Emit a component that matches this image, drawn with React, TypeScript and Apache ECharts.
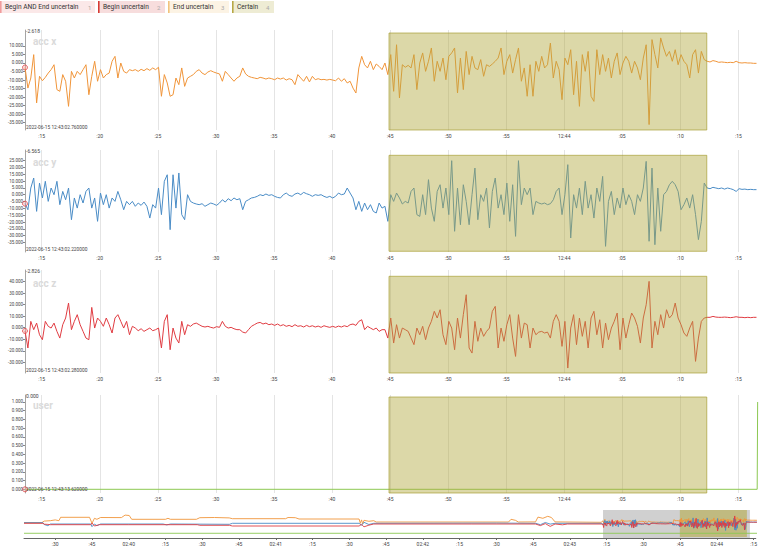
import React, { useEffect, useRef } from "react";
import * as echarts from "echarts";

// Time is expressed in seconds after 12:43:00.
const T0 = 13.56; // first sample
const DT = 0.25; // sample interval
const VIEW_MIN = 13.56;
const VIEW_MAX = 76.69;
const CERTAIN_START = 44.91;
const CERTAIN_END = 72.28;

const accX = [
  -2.618, -14.7, -8.8, 4.9, -23.4, -7.8, -10.4, -8.4, -5.9, -3.9,
  -1, -15.6, -16.6, -6.8, -10.7, -25.4, -4.9, -8.8, -4.9, -6.8,
  -3.9, -1, -18.6, -7.8, 1, -10.7, -3.9, -8.8, -6.8, -5.9,
  1, 3.9, -8.8, 0, -4.9, -5.9, -3.9, -4.5, -3.9, -4.9,
  -3.7, -4.5, -3.3, -4.3, -2.9, -3.9, -2.5, -19.5, -6.8, -11.7,
  -19.5, -18.6, -8.8, -12.7, -2.9, -13.7, -8.8, -7.8, -6.8, -4.9,
  -3.9, -5.9, -6.8, -5.3, -4.5, -5.3, -5.9, -6.4, -10.7, -4.9,
  -6.8, -8.8, -10.7, -8.8, -7.8, -2.9, -6.4, -7.8, -8.4, -8.8,
  -9.2, -8.4, -8.8, -9.4, -8.8, -9.2, -9.8, -8.8, -9.4, -8.8,
  -10, -9.2, -9.8, -12.7, -6.8, -8.8, -10.7, -7.8, -11.1, -7.8,
  -9.8, -9.2, -9.8, -9.6, -10, -9.6, -10, -10.4, -8.8, -10.7,
  -9.2, -11.7, -10.7, -14.7, -17.6, -2.9, 3.9, -1, -2.9, 1,
  -3.9, -0.6, -2, -3.9,
  0, -6.8, 4.9, -16.6, 10.7, -20.5,
  -1, -2.5, -1.4, -2.9, 4.9, -15.6, 0, 5.9, -4.9, 1,
  8.8, -10.7, 1, -4.9, 2.9, -9.8, 3.9, 5.9, 8.8, -17.6,
  2.9, -15.6, 6.8, -6.8, 3.9, -2.9, -3.9, 2, -7.8, -1,
  -2, -0.6, 1, 2.9, 8.8, -6.8, 1, 4.9, -5.9, 2,
  8.8, -10.7, -2.9, -19.5, -1, -19.5, 1, -4.9, 3.9, -2.9,
  -1, 11.7, -8.8, 1, -3.9, -21.5, 2.9, -1, 7.8, -18.6,
  1, -25.4, 4.9, -4.9, 6.8, -19.5, -22.5, 7.8, -6.8, 4.9,
  -4.9, 2.9, -8.8, 1, 5.9, -6.8, 0, 3.9, 1, -5.9,
  1, -2.9, -9.8, 2.9, 10.7, -36.1, 13.7, 4.9, -2.9, 14.7,
  8.8, 3.9, 6.8, 1, 7.8, -1, 4.9, 1, -1, -8.8,
  4.9, 7.8, -5.9, 6.8, 2, 1, 0.6, 1.4, 1, 0.4,
  0.6, 0.4, 0.2, 0.4, 0.2, 1, 0.2, 0, 0.2, 0,
  0, -0.2, -0.2,
];

const accY = [
  -6.565, -11, 4.9, 12.2, -12.2, 8.5, -2.4, 9.8, -4.9, 4.9,
  0, 9.8, -7.3, 2.4, -3.7, 4.9, -18.3, -2.4, -9.8, 0,
  -6.1, 2.4, 4.9, -9.8, -2.4, -19.5, 1.2, -7.3, 0, -9.8,
  -2.4, -4.9, 2.4, -3.7, -11, -4.9, -7.3, -4.9, -8.5, -6.1,
  -7.8, -5.4, -8.5, -17.1, -7.3, -9.8, 4.9, -14.6, 9.8, 14.6,
  -25.6, 14.6, -9.8, 15.9, -14.6, -18.3, 0, -4.9, -6.1, -6.8,
  -7.3, -6.6, -8.5, -7.3, -6.1, -6.8, -7.8, -6.1, -3.7, -5.4,
  -2.9, -4.4, -2.4, -3.7, -2.9, -11, -4.9, -3.7, -2.4, -2,
  -1.2, 0, -0.7, 0.5, -0.5, 0, -1.2, -2, -2.4, 0,
  1.2, -0.5, -1.2, 0.5, 1.2, 0, 1.7, 0.7, 0, -1.2,
  0, -0.5, 0, -1.2, -2, -1.2, -2.4, -1.2, 1.2, 0,
  0.5, 4.9, 1.2, -2.4, -11, -4.9, -12.2, -6.1, -11, -7.3,
  -12.2, -13.4, -6.1, -9.8,
  -8.5, -19.5, 0, -4.9, 1.2, -2.4,
  -6.8, -4.9, -6.1, 2.4, 4.9, -14.6, -15.9, 0, -14.6, 11,
  -9.8, -19.5, 2.4, 7.3, -9.8, 4.9, -14.6, 24.9, -26.8, 4.9,
  -22, 7.3, -4.9, -22, 0, 19.5, -18.3, 0, -4.9, 4.9,
  -24.4, 2.4, 12.2, -9.8, 0, -14.6, 8.5, -19.5, 7.3, -30.5,
  24.9, -7.3, 4.9, 0, 4.9, -14.6, -4.9, -6.1, -6.8, -6.1,
  -7.3, -6.6, -3.7, 2.4, 4.9, -14.6, 0, 22, -31.7, 0,
  -9.8, 4.9, -14.6, 9.8, -9.8, 0, -17.1, 4.9, -4.9, 13.4,
  -37.8, -4.9, 2.4, -14.6, -2.4, -9.8, 4.9, -7.3, 0, -4.9,
  -14.6, 0, -4.9, 4.9, 24.4, -34.1, 19.5, -36.6, 4.9, -26.8,
  0, 2.4, 7.3, 9.8, 7.3, 2.4, -11, -7.3, -2.4, -9.8,
  0, -14.6, -32.9, -19.5, 8.5, 4.9, 4.4, 5.4, 4.9, 4.4,
  4.9, 4.1, 4.9, 4.4, 3.7, 2.4, 4.4, 3.9, 4.1, 3.7,
  3.9, 3.7, 3.7,
];

const accZ = [
  -2.826, -17.6, 5.5, -1.7, 4, -6.1, -10.4, 5.5, 1.2, -0.3,
  4, -3.2, -9, 2.6, 8.4, 21.4, -1.7, 5.5, 11.3, 2.6,
  -3.2, -9, -10.4, 17.6, -0.3, 8.4, 5.5, 1.2, 8.4, 2.6,
  -4.6, 8.4, 11.3, 5.5, -0.3, 5.5, -6.1, 1.2, -0.3, -2.6,
  -0.9, -3.2, -1.7, -0.3, -2.6, -1.7, -0.3, -17.6, 5.5, 11.3,
  -19.1, -0.3, -9, -13.3, 5.5, -6.1, 2.6, 1.2, 3.2, 4,
  2.6, 1.2, 0.6, 1.2, 0.3, -0.3, 0.9, 0.3, 5.5, 1.2,
  -0.3, 0.3, -0.9, -1.7, -1.7, -3.8, -4.6, -1.7, 1.2, 2.6,
  4, 4.6, 3.2, 4, 2.6, 3.2, 2, 3.2, 1.7, 2.6,
  1.2, 2, 0.9, 2.6, 1.2, 1.7, 0.6, 2, 0.9, 1.7,
  0.6, 1.4, 0.3, 1.7, 0.9, 0.3, 1.2, 0.3, 1.4, 0.6,
  1.7, 0.9, 2.6, 3.2, 2, 5.5, 6.9, -1.7, 1.2, -0.3,
  -1.7, -0.3, -3.2, -1.7,
  -1.7, -9, 8.4, -13.3, 2.6, -9,
  -0.3, -1.7, -3.2, -9, -14.7, -0.3, -6.1, 1.2, -10.4, -0.3,
  5.5, 14.2, 8.4, 15.6, -6.1, -14.7, 5.5, -0.3, -19.1, 8.4,
  -9, 11.3, 28.6, -17.6, -22, 5.5, -11.8, -0.3, -7.5, -3.2,
  -0.3, 14.2, 18.5, -17.6, -0.3, -11.8, 2.6, 11.3, -9, -24.9,
  11.3, -9, 4, 2.6, -17.6, -0.3, -6.1, -3.8, -3.2, -4.6,
  -3.8, -9, 5.5, 11.3, 5.5, -16.2, 5.5, -35, -0.3, 11.3,
  -14.7, 8.4, -7.5, 5.5, -17.6, 8.4, 14.2, -6.1, 6.9, -17.6,
  4, -10.4, -0.3, 5.5, 12.7, -19.1, 8.4, -9, 2.6, 12.7,
  8.4, 1.2, -13.3, 8.4, 19.9, 40.2, -17.6, 5.5, -6.1, 11.3,
  -0.3, 15.6, 8.4, 11.3, 21.4, 8.4, 2.6, -4.6, -7.5, -0.3,
  5.5, -29.2, -9, 5.5, 8.4, 9, 9, 9.8, 9.2, 9,
  9, 9.2, 9, 8.7, 9, 9.5, 9, 9, 8.7, 9,
  8.7, 9, 9,
];

const userTimes = [13.56, 76.62, 76.66];
const userValues = [0, 0, 1];

// Earlier history shown only in the overview strip: [time, value]
const historyX = [
  [-222.75, -12], [-215.5, -12], [-214.5, -4], [-212, -2], [-210, 2], [-208.5, -2],
  [-207.8, 15], [-196, 15], [-195, -15], [-194, 10], [-193, 5], [-191.5, 14],
  [-183, 13.5], [-181.5, 26], [-179.8, 24], [-178.8, 5], [-165, 5], [-164, 10],
  [-163, 5], [-152.4, 5], [-151, 13], [-145, 14], [-139, 12], [-137.7, 8],
  [-116, 8], [-115, 14], [-112, 13], [-110.5, 6.5], [-86, 6.5], [-85.5, -15],
  [-85, 2], [-84.5, -18], [-84, 0], [-82, -5], [-80, -2], [-79, -8.5],
  [-25, -8.5], [-24, 5], [-22.2, 0], [-21, -8.5], [-14, -8], [-13, 16],
  [-11, 10], [-9, 20], [-7.5, 14], [-6, -8], [-5.9, -10], [12.8, -10],
];
const historyY = [
  [-222.75, 1], [-215, 1], [-214.5, -8], [-213, -14], [-212, -5.5], [-195.5, -5.5],
  [-195, -19], [-194, -5.5], [-193, -14], [-191.5, -5.5], [-166, -5.5], [-164.5, -10],
  [-163, -5.5], [-138.9, -7], [-137.7, -2], [-86, -2], [-85, -12], [-84, 3],
  [-82, -8], [-80, -2], [-30, -1], [-14, -2], [-12, -9], [-10, 2],
  [-8, -6], [-6, -2], [12.8, -2],
];
const historyZ = [
  [-222.75, 3.5], [-215, 3.5], [-214.5, -1], [-213, -2], [-212, -3.5], [-195.5, -3.5],
  [-195, 5], [-194, -10], [-192, -3.5], [-180, -3.5], [-152, -3.5], [-151, -6.5],
  [-138.9, -6.5], [-137.7, -10], [-86, -10], [-85, -2], [-84, -14], [-82, -6],
  [-80, 0], [-40, 0], [-14, 0], [-12, -8], [-10, 2], [-8, -12],
  [-6, 0], [-3, -4], [-1, 0], [12.8, 0],
];
const historyUser = [[-222.75, 0]];

const mainTicks = [15, 20, 25, 30, 35, 40, 45, 50, 55, 60, 65, 70, 75];
const overviewTicks = [
  -210, -195, -180, -165, -150, -135, -120, -105, -90, -75, -60, -45, -30, -15, 0, 15, 30, 45, 60, 75,
];
const ticksX = [-35, -30, -25, -20, -15, -10, -5, 0, 5, 10];
const ticksY = [-35, -30, -25, -20, -15, -10, -5, 0, 5, 10, 15, 20, 25];
const ticksZ = [-30, -20, -10, 0, 10, 20, 30, 40];
const ticksUser = [0, 0.1, 0.2, 0.3, 0.4, 0.5, 0.6, 0.7, 0.8, 0.9, 1];

const panelNames = ["acc x", "acc y", "acc z", "user"];
const cursorValues = ["-2.618", "-6.565", "-2.826", "0.000"];
const firstStamps = [
  "2022-06-15 12:43:02.760000",
  "2022-06-15 12:43:02.220000",
  "2022-06-15 12:43:02.280000",
  "2022-06-15 12:43:13.620000",
];
const legendLabels = ["Begin AND End uncertain", "Begin uncertain", "End uncertain", "Certain"];
const legendKeys = ["1", "2", "3", "4"];

const FONT = "Roboto, 'Noto Sans', sans-serif";
const LEGEND_STYLE = [
  { x: 0, w: 95, bg: "#fbe8e8", bar: "#f19c9c", numX: 88 },
  { x: 98, w: 67, bg: "#f7dddd", bar: "#d63a33", numX: 157 },
  { x: 168, w: 61, bg: "#fcf3e4", bar: "#f1c37c", numX: 221 },
  { x: 232, w: 42, bg: "#eeecd4", bar: "#b7a845", numX: 266 },
];

const pad2 = (n: number) => String(Math.round(n)).padStart(2, "0");
const mainLabel = (v: number) => (Math.abs(v - 60) < 1e-6 ? "12:44" : ":" + pad2(((v % 60) + 60) % 60));
const overviewLabel = (v: number) => {
  const m = Math.floor(v / 60);
  const s = v - m * 60;
  return Math.abs(s) < 1e-6 ? "02:" + pad2(43 + m) : ":" + pad2(s);
};

const sampled = (values: number[]) => values.map((v, k) => [T0 + k * DT, v]);
const userSeries = userTimes.map((t, k) => [t, userValues[k]]);

function buildOption() {
  const panels = [
    { data: sampled(accX), color: "#f0953a", top: 30, height: 100, min: -39.27, max: 19.34, ticks: ticksX, areaTop: 17.58, areaBottom: -39.27, nameY: 41, headY: 31, stampY: 127.5 },
    { data: sampled(accY), color: "#4a8cc6", top: 150, height: 102, min: -41.95, max: 32.72, ticks: ticksY, areaTop: 28.84, areaBottom: -41.43, nameY: 162, headY: 151, stampY: 249.7 },
    { data: sampled(accZ), color: "#e03c42", top: 270, height: 103, min: -39.29, max: 50.04, ticks: ticksZ, areaTop: 44.58, areaBottom: -39.29, nameY: 283, headY: 271, stampY: 370.7 },
    { data: userSeries, color: "#8cc852", top: 395, height: 98, min: -0.0424, max: 1.08, ticks: ticksUser, areaTop: 1.057, areaBottom: -0.0424, nameY: 405, headY: 396, stampY: 489.5 },
  ];

  const grid: any[] = panels.map((p) => ({ left: 25, top: p.top, width: 733, height: p.height }));
  grid.push({ left: 24, top: 506, width: 734, height: 32 });

  const xAxis: any[] = panels.map((_, i) => ({
    type: "value",
    gridIndex: i,
    min: VIEW_MIN,
    max: VIEW_MAX,
    axisLine: { show: false, onZero: false },
    axisTick: { show: false },
    splitLine: { show: false },
    axisLabel: {
      customValues: mainTicks,
      formatter: mainLabel,
      fontSize: 5,
      color: "#444",
      margin: 3,
      fontFamily: FONT,
    },
  }));
  xAxis.push({
    type: "value",
    gridIndex: 4,
    min: -222.75,
    max: 75.9,
    axisLine: { show: true, onZero: false, lineStyle: { color: "#666", width: 1 } },
    axisTick: { show: true, customValues: overviewTicks, length: 2, lineStyle: { color: "#666" } },
    splitLine: { show: false },
    axisLabel: {
      customValues: overviewTicks,
      formatter: overviewLabel,
      fontSize: 5,
      color: "#444",
      margin: 3,
      fontFamily: FONT,
    },
  });

  const yAxis: any[] = panels.map((p, i) => ({
    type: "value",
    gridIndex: i,
    min: p.min,
    max: p.max,
    axisLine: { show: true, onZero: false, lineStyle: { color: "#a5a5a5", width: 1 } },
    axisTick: { show: true, customValues: p.ticks, length: 2, lineStyle: { color: "#888" } },
    splitLine: { show: false },
    axisLabel: {
      customValues: p.ticks,
      formatter: (v: number) => v.toFixed(3),
      fontSize: 4.5,
      color: "#444",
      margin: 2,
      fontFamily: FONT,
    },
  }));
  // overview scales, one per trace (y axes 4..7)
  const overviewScales = [
    [-88.5, 71.5],
    [-75.5, 84.5],
    [-70, 90],
    [-0.179, 1.038],
  ];
  overviewScales.forEach(([min, max]) =>
    yAxis.push({
      type: "value",
      gridIndex: 4,
      min,
      max,
      axisLine: { show: false },
      axisTick: { show: false },
      axisLabel: { show: false },
      splitLine: { show: false },
    })
  );

  const series: any[] = [];
  panels.forEach((p, i) => {
    // vertical time grid
    series.push({
      type: "line",
      xAxisIndex: i,
      yAxisIndex: i,
      data: [],
      z: 1,
      silent: true,
      markLine: {
        z: 1,
        silent: true,
        symbol: ["none", "none"],
        label: { show: false },
        lineStyle: { color: "#e4e4e4", width: 1, type: "solid" },
        data: mainTicks.map((v) => ({ xAxis: v })),
      },
    });
    series.push({
      type: "line",
      name: panelNames[i],
      xAxisIndex: i,
      yAxisIndex: i,
      data: p.data,
      symbol: "none",
      showSymbol: false,
      z: 2,
      lineStyle: { color: p.color, width: 1 },
      itemStyle: { color: p.color },
    });
    // "Certain" label span, laid over the trace
    series.push({
      type: "line",
      xAxisIndex: i,
      yAxisIndex: i,
      data: [],
      z: 3,
      silent: true,
      markArea: {
        z: 3,
        silent: true,
        itemStyle: { color: "rgba(178,168,62,0.45)", borderColor: "rgba(165,155,45,0.65)", borderWidth: 1 },
        data: [[{ xAxis: CERTAIN_START, yAxis: p.areaTop }, { xAxis: CERTAIN_END, yAxis: p.areaBottom }]],
      },
    });
    series.push({
      type: "scatter",
      xAxisIndex: i,
      yAxisIndex: i,
      data: [p.data[0]],
      symbol: "circle",
      symbolSize: 5,
      z: 4,
      silent: true,
      itemStyle: { color: "rgba(245,170,170,0.55)", borderColor: "#e04a4a", borderWidth: 1 },
    });
  });

  // overview strip
  series.push({
    type: "line",
    xAxisIndex: 4,
    yAxisIndex: 7,
    data: [],
    z: 1,
    silent: true,
    markArea: {
      z: 1,
      silent: true,
      data: [
        [
          { xAxis: VIEW_MIN, yAxis: 0.886, itemStyle: { color: "rgba(110,110,110,0.32)" } },
          { xAxis: 73.5, yAxis: -0.179 },
        ],
        [
          { xAxis: CERTAIN_START, yAxis: 0.886, itemStyle: { color: "rgba(178,168,62,0.55)" } },
          { xAxis: CERTAIN_END, yAxis: -0.14 },
        ],
      ],
    },
  });
  const overviewTraces = [
    { hist: historyX, main: sampled(accX), color: "#f0953a", axis: 4 },
    { hist: historyY, main: sampled(accY), color: "#4a8cc6", axis: 5 },
    { hist: historyZ, main: sampled(accZ), color: "#e03c42", axis: 6 },
    { hist: historyUser, main: userSeries, color: "#8cc852", axis: 7 },
  ];
  overviewTraces.forEach((tr) =>
    series.push({
      type: "line",
      xAxisIndex: 4,
      yAxisIndex: tr.axis,
      data: [...tr.hist, ...tr.main],
      symbol: "none",
      showSymbol: false,
      z: 2,
      silent: true,
      lineStyle: { color: tr.color, width: 0.9 },
    })
  );

  const graphic: any[] = [];
  LEGEND_STYLE.forEach((s, i) => {
    graphic.push({ type: "rect", shape: { x: s.x, y: 1, width: s.w, height: 12 }, style: { fill: s.bg } });
    graphic.push({ type: "rect", shape: { x: s.x, y: 1, width: 1.6, height: 12 }, style: { fill: s.bar } });
    graphic.push({
      type: "text",
      x: s.x + 5,
      y: 7.3,
      style: { text: legendLabels[i], fontSize: 6.6, fill: "#333", fontFamily: FONT, verticalAlign: "middle" },
    });
    graphic.push({
      type: "text",
      x: s.numX,
      y: 7.3,
      style: { text: legendKeys[i], fontSize: 6, fill: "#aaa", fontFamily: FONT, verticalAlign: "middle" },
    });
  });
  panels.forEach((p, i) => {
    graphic.push({
      type: "text",
      x: 33,
      y: p.nameY,
      z: 10,
      style: { text: panelNames[i], fontSize: 10, fontWeight: "bold", fill: "#dadada", fontFamily: FONT, verticalAlign: "middle" },
    });
    graphic.push({
      type: "text",
      x: 26,
      y: p.headY,
      z: 10,
      style: { text: cursorValues[i], fontSize: 5, fill: "#444", fontFamily: FONT, verticalAlign: "middle" },
    });
    graphic.push({
      type: "text",
      x: 26,
      y: p.stampY,
      z: 10,
      style: { text: firstStamps[i], fontSize: 4.8, fill: "#444", fontFamily: FONT, verticalAlign: "middle" },
    });
  });

  return {
    animation: false,
    backgroundColor: "#ffffff",
    textStyle: { fontFamily: FONT },
    grid,
    xAxis,
    yAxis,
    series,
    graphic,
  };
}

export default function App() {
  const ref = useRef<HTMLDivElement>(null);
  useEffect(() => {
    if (!ref.current) return;
    const chart = echarts.init(ref.current, undefined, { renderer: "svg" });
    chart.setOption(buildOption() as any);
    return () => chart.dispose();
  }, []);
  return (
    <div
      ref={ref}
      style={{ position: "fixed", left: 0, top: 0, width: 760, height: 547, background: "#fff" }}
    />
  );
}
